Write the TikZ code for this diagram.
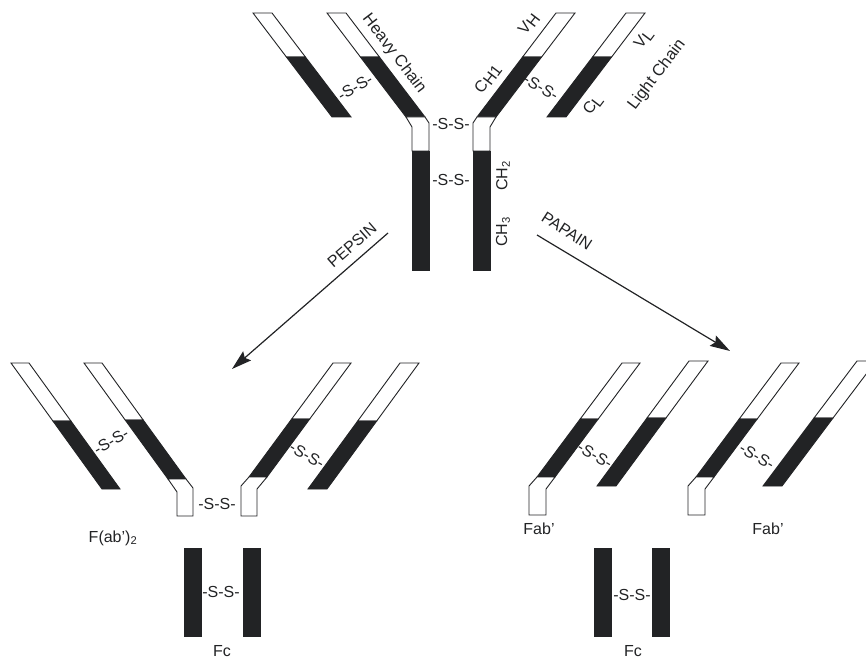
\documentclass[tikz,border=0pt]{standalone}
\usepackage{fontspec}
\setmainfont{Liberation Sans}
\usetikzlibrary{arrows.meta}
\definecolor{ink}{HTML}{222325}
\tikzset{
  whiteseg/.style={draw=ink, fill=white, line width=0.9pt, line join=miter},
  blackseg/.style={draw=ink, fill=ink, line width=0.9pt, line join=miter},
  lbl/.style={font=\fontsize{16}{18}\selectfont, text=ink, inner sep=0pt},
  biglbl/.style={font=\fontsize{16.5}{18}\selectfont, text=ink, inner sep=0pt},
  enzyme/.style={draw=ink, line width=1.2pt, -{Stealth[length=20pt,width=12pt,inset=3pt]}}
}
% slanted band with horizontal ends: style, top-left x, top y, bottom-left x, bottom y, width
\newcommand\band[6]{\path[#1] (#2,#3) -- (#2+#6,#3) -- (#4+#6,#5) -- (#4,#5) -- cycle;}
% two-tone chain: white variable part on top, black constant part below
\newcommand\chainbar[7]{\band{whiteseg}{#1}{#2}{#3}{#4}{#7}\band{blackseg}{#3}{#4}{#5}{#6}{#7}}
\newcommand\sub[1]{\raisebox{-2.5pt}{#1}}
\begin{document}
\begin{tikzpicture}[x=1pt,y=-1pt]
\useasboundingbox (0,0) rectangle (866,660);
\clip (0,0) rectangle (866,660);

% ---------- intact antibody ----------
\chainbar{253}{13}{286.4}{57}{332}{117}{19}
\chainbar{327}{13}{360.4}{57}{406}{117}{19}
\path[whiteseg] (406,117) -- (425,117) -- (429,123) -- (429,151) -- (412,151) -- (412,127) -- cycle;
\path[blackseg] (412,151) rectangle (429,270);
\chainbar{556}{13}{522.6}{57}{477}{117}{19}
\path[whiteseg] (496,117) -- (477,117) -- (473,123) -- (473,151) -- (490,151) -- (490,127) -- cycle;
\path[blackseg] (473,151) rectangle (490,270);
\chainbar{626}{13}{592.6}{57}{547}{117}{19}

\node[biglbl, rotate=-52.8] (heavy) at (394,54) {Heavy Chain};
\node[lbl, rotate=52.8] (vh) at (529,24) {V\sub{H}};
\node[lbl, rotate=52.8] (ch1) at (488,79) {C\sub{H1}};
\node[lbl, rotate=52.8] (vl) at (644,39) {V\sub{L}};
\node[lbl, rotate=52.8] (cl) at (593,105) {C\sub{L}};
\node[biglbl, rotate=52.8] (light) at (657,75) {Light Chain};
\node[lbl, rotate=30] (ssa) at (355,87) {-S-S-};
\node[lbl, rotate=-30] (ssb) at (541,87) {-S-S-};
\node[lbl] (ssc) at (451,124) {-S-S-};
\node[lbl] (ssd) at (451,180) {-S-S-};
\node[lbl, rotate=90] (ch2) at (503,176) {CH\textsubscript{2}};
\node[lbl, rotate=90] (ch3) at (503,232) {CH\textsubscript{3}};

% ---------- enzyme arrows ----------
\coordinate (pepfrom) at (388,233);
\coordinate (pepto) at (232,369);
\coordinate (papfrom) at (537,235);
\coordinate (papto) at (730,351);
\draw[enzyme] (pepfrom) -- (pepto);
\draw[enzyme] (papfrom) -- (papto);
\node[lbl, rotate=41] (pepsin) at (352,245) {PEPSIN};
\node[lbl, rotate=-33] (papain) at (567,231) {PAPAIN};

% ---------- pepsin products ----------
\chainbar{11}{363}{52.9}{421}{102}{489}{18}
\chainbar{84}{363}{125.2}{420}{168}{479}{18}
\path[whiteseg] (168,479) -- (186,479) -- (193,488) -- (193,516) -- (177,516) -- (177,492) -- cycle;
\chainbar{333}{363}{291.7}{419}{249}{477}{18}
\path[whiteseg] (267,477) -- (249,477) -- (241,486) -- (241,516) -- (257,516) -- (257,489) -- cycle;
\chainbar{400}{363}{357.7}{421}{308}{489}{19}
\node[lbl, rotate=30] (ssl1) at (111,441) {-S-S-};
\node[lbl, rotate=-30] (ssl2) at (307,455) {-S-S-};
\node[lbl] (ssl3) at (217,504) {-S-S-};
\node[lbl] (fab2) at (113,538) {F(ab’)\textsubscript{2}};

\path[blackseg] (184,548) rectangle (201,636);
\path[blackseg] (243,548) rectangle (260,636);
\node[lbl] (ssl4) at (221,592) {-S-S-};
\node[lbl] (fcl) at (222,651) {Fc};

% ---------- papain products ----------
\chainbar{622}{363}{580.2}{419}{537}{477}{18}
\path[whiteseg] (555,477) -- (537,477) -- (529,486) -- (529,515) -- (546,515) -- (546,489) -- cycle;
\chainbar{689}{361}{647}{418}{597}{486}{19}
\node[lbl, rotate=-30] (ssr1) at (595,455) {-S-S-};
\node[lbl] (faba) at (539,529) {Fab’};

\chainbar{781}{363}{739.2}{419}{696}{477}{18}
\path[whiteseg] (714,477) -- (696,477) -- (688,486) -- (688,515) -- (705,515) -- (705,489) -- cycle;
\chainbar{857}{361}{814}{418}{763}{486}{19}
\node[lbl, rotate=-30] (ssr2) at (757,456) {-S-S-};
\node[lbl] (fabb) at (768,529) {Fab’};

\path[blackseg] (594,548) rectangle (611,636);
\path[blackseg] (652,548) rectangle (669,636);
\node[lbl] (ssr3) at (632,595) {-S-S-};
\node[lbl] (fcr) at (633,651) {Fc};
\end{tikzpicture}
\end{document}
